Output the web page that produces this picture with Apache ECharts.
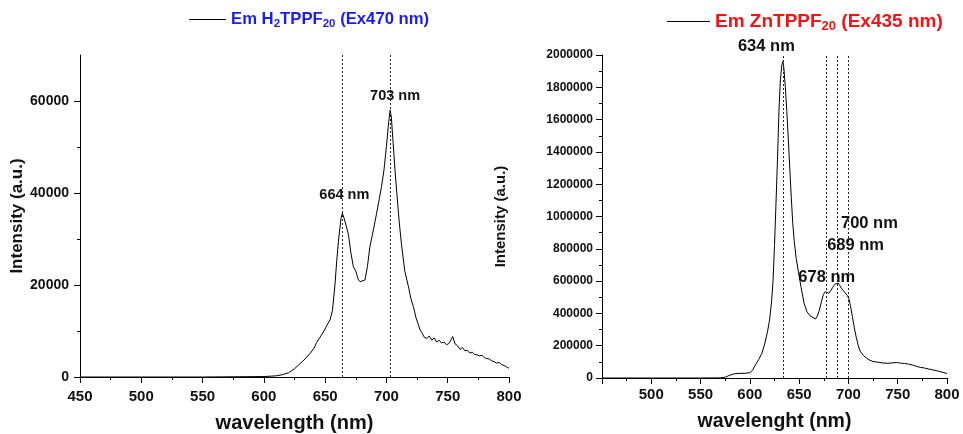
<!DOCTYPE html>
<html>
<head>
<meta charset="utf-8">
<script src="https://cdn.jsdelivr.net/npm/echarts@6/dist/echarts.min.js"></script>
<style>
  html, body { margin: 0; padding: 0; background: #fff; }
  #chart { width: 963px; height: 434px; }
</style>
</head>
<body>
<div id="chart"></div>
<script>
// Emission spectrum of H2TPPF20 (excitation 470 nm)
const wavelengthH2 = [450, 500, 550, 600, 610, 615, 620, 625, 630, 635, 638, 641, 643, 646, 649, 652, 654, 656, 658, 659.5, 661, 663, 664, 665.5, 667, 669, 671, 673, 675, 677, 678.5, 680, 682.5, 684.5, 686.5, 689, 692, 694, 696, 698, 700, 701.5, 703, 704, 705.5, 707, 708.5, 710.5, 712.5, 715, 718, 720, 722, 724, 726, 727.5, 729, 731, 733, 735, 737, 739, 741, 743, 745, 747, 749, 751, 753, 754, 756, 758, 760, 762, 764, 766, 768, 770, 772, 774, 776, 778, 780, 782, 784, 786, 788, 790, 792, 794, 796, 798, 800];
const intensityH2 = [0, 0, 0, 100, 250, 500, 900, 1800, 3000, 4300, 5200, 6300, 7500, 8700, 10000, 11500, 12400, 14500, 20000, 25400, 30000, 34500, 35600, 34500, 33000, 31000, 27000, 24000, 23000, 21200, 20700, 20600, 21100, 24000, 28300, 31500, 35600, 38500, 41400, 45000, 50100, 54500, 58000, 56500, 50800, 45000, 39900, 33500, 28300, 23000, 19600, 17000, 15300, 13000, 11400, 10200, 9600, 8600, 8400, 8900, 8000, 8500, 7600, 8000, 7400, 7600, 7000, 7300, 8200, 8800, 7200, 6800, 6000, 6400, 5700, 5800, 5200, 5400, 4900, 4800, 4600, 4700, 4200, 4000, 3900, 3500, 3300, 3000, 3200, 2700, 2500, 2200, 1900];
const peaksH2 = [664, 703];

// Emission spectrum of ZnTPPF20 (excitation 435 nm)
const wavelengthZn = [450, 500, 550, 570, 575, 580, 585, 590, 595, 600, 603, 606, 609, 612, 615, 618, 620, 622, 623.5, 625, 626.5, 628, 629.5, 631, 632.5, 633.5, 634.5, 636, 637.5, 639, 640.5, 642, 643.5, 645, 647, 649.5, 652, 655, 658, 661, 664, 666.5, 668.5, 670.5, 672.5, 674.5, 676.5, 678, 680, 682, 684, 686, 688, 689.5, 691, 693, 695, 697, 699, 700.5, 702, 704, 706, 708, 710, 712, 715, 718, 721, 725, 730, 735, 740, 745, 749, 753, 757, 761, 765, 769, 773, 777, 781, 785, 789, 793, 797, 800];
const intensityZn = [0, 0, 0, 1000, 5000, 18000, 27000, 29000, 29000, 33000, 50000, 85000, 115000, 150000, 210000, 290000, 360000, 470000, 600000, 820000, 1080000, 1350000, 1650000, 1850000, 1940000, 1960000, 1920000, 1800000, 1650000, 1480000, 1300000, 1120000, 960000, 850000, 740000, 650000, 560000, 463000, 410000, 385000, 375000, 365000, 385000, 420000, 470000, 515000, 535000, 530000, 524000, 540000, 560000, 580000, 592000, 588000, 575000, 555000, 540000, 525000, 510000, 490000, 450000, 380000, 310000, 250000, 200000, 165000, 140000, 125000, 112000, 102000, 98000, 93000, 91000, 94000, 96000, 92000, 90000, 86000, 80000, 72000, 66000, 62000, 56000, 51000, 46000, 40000, 33000, 28000];
const peaksZn = [634, 678, 689, 700];

const FONT = '"Liberation Sans", Arial, sans-serif';

// pixel offsets of each peak caption from the curve point at that wavelength
const captionOffsetH2 = [[2, -18], [5, -14]];
const captionOffsetZn = [[-17, -15], [0, -15], [18, -38], [21, -75]];

function pairs(ws, is) { return ws.map((w, i) => [w, is[i]]); }
function nearestValue(ws, is, x) {
  let best = 0;
  ws.forEach((w, i) => { if (Math.abs(w - x) < Math.abs(ws[best] - x)) best = i; });
  return is[best];
}

function peakMarks(ws, is, peaks, offsets, fontSize) {
  return {
    markLine: {
      silent: true,
      symbol: 'none',
      lineStyle: { color: '#222', type: [2, 2], width: 1 },
      label: { show: false },
      data: peaks.map(p => ({ xAxis: p }))
    },
    markPoint: {
      silent: true,
      symbol: 'circle',
      symbolSize: 1,
      itemStyle: { color: 'rgba(0,0,0,0)' },
      label: {
        show: true, position: 'inside', color: '#111',
        fontFamily: FONT, fontWeight: 'bold', fontSize: fontSize
      },
      data: peaks.map((p, i) => ({
        coord: [p, nearestValue(ws, is, p)],
        value: p,
        label: { formatter: p + ' nm', offset: offsets[i] }
      }))
    }
  };
}

const labelStyle = size => ({ fontFamily: FONT, fontWeight: 'bold', fontSize: size, color: '#111' });
const plain = v => String(v);

function xAxisCfg(gridIndex, name, labelSize, labelMargin, nameSize, nameGap, showMin) {
  return {
    type: 'value', gridIndex, min: 450, max: 800, interval: 50,
    name, nameLocation: 'middle', nameGap,
    nameTextStyle: labelStyle(nameSize),
    axisLine: { show: true, onZero: false, lineStyle: { color: '#000', width: 1 } },
    axisTick: { show: true, inside: false, length: 6, lineStyle: { color: '#000' } },
    minorTick: { show: true, splitNumber: 2, length: 3, lineStyle: { color: '#000' } },
    axisLabel: Object.assign({ margin: labelMargin, showMinLabel: showMin, formatter: plain }, labelStyle(labelSize)),
    splitLine: { show: false }
  };
}

const legendText = (color, main, sub) => ({
  fontFamily: FONT, fontWeight: 'bold', fontSize: main, color,
  rich: {
    m: { fontFamily: FONT, fontWeight: 'bold', fontSize: main, color, lineHeight: main + 4 },
    s: { fontFamily: FONT, fontWeight: 'bold', fontSize: sub, color, lineHeight: main + 4, padding: [Math.round(main * 0.55), 0, 0, 0] }
  }
});

const chart = echarts.init(document.getElementById('chart'), null, { renderer: 'canvas' });

chart.setOption({
  backgroundColor: '#fff',
  animation: false,
  legend: [
    {
      data: ['H2'], left: 189, top: 9, padding: 0, icon: 'rect', itemWidth: 37, itemHeight: 1.2, itemGap: 6,
      itemStyle: { color: '#000' },
      formatter: () => '{m|Em H}{s|2}{m|TPPF}{s|20}{m| (Ex470 nm)}',
      textStyle: legendText('#1c1cf0', 16.7, 11.5)
    },
    {
      data: ['Zn'], left: 667, top: 10, padding: 0, icon: 'rect', itemWidth: 43, itemHeight: 1.2, itemGap: 7,
      itemStyle: { color: '#000' },
      formatter: () => '{m|Em ZnTPPF}{s|20}{m| (Ex435 nm)}',
      textStyle: legendText('#f01414', 19, 13)
    }
  ],
  grid: [
    { left: 80, top: 55, width: 429, height: 322, outerBoundsMode: 'none', containLabel: false },
    { left: 602, top: 55, width: 345, height: 323, outerBoundsMode: 'none', containLabel: false }
  ],
  xAxis: [
    xAxisCfg(0, 'wavelength (nm)', 15, 12, 20, 36, true),
    xAxisCfg(1, 'wavelenght (nm)', 15, 9, 19.5, 34, false)
  ],
  yAxis: [
    {
      type: 'value', gridIndex: 0, min: 0, max: 70000, position: 'left',
      name: 'Intensity (a.u.)', nameLocation: 'middle', nameGap: 53,
      nameTextStyle: labelStyle(17),
      axisLine: { show: true, lineStyle: { color: '#000', width: 1 } },
      axisTick: { show: true, length: 6, customValues: [0, 20000, 40000, 60000], lineStyle: { color: '#000' } },
      axisLabel: Object.assign({ margin: 11, customValues: [0, 20000, 40000, 60000], formatter: plain }, labelStyle(14)),
      splitLine: { show: false }
    },
    {
      // minor ticks for the left intensity axis
      type: 'value', gridIndex: 0, min: 0, max: 70000, position: 'left', offset: 0,
      axisLine: { show: false },
      axisTick: { show: true, length: 3, customValues: [10000, 30000, 50000], lineStyle: { color: '#000' } },
      axisLabel: { show: false },
      splitLine: { show: false }
    },
    {
      type: 'value', gridIndex: 1, min: 0, max: 2000000, interval: 200000, position: 'left',
      name: 'Intensity (a.u.)', nameLocation: 'middle', nameGap: 94,
      nameTextStyle: labelStyle(15),
      axisLine: { show: true, lineStyle: { color: '#000', width: 1 } },
      axisTick: { show: true, length: 6, lineStyle: { color: '#000' } },
      minorTick: { show: true, splitNumber: 2, length: 3, lineStyle: { color: '#000' } },
      axisLabel: Object.assign({ margin: 9, formatter: plain }, labelStyle(12)),
      splitLine: { show: false }
    }
  ],
  series: [
    Object.assign({
      name: 'H2', type: 'line', xAxisIndex: 0, yAxisIndex: 0,
      data: pairs(wavelengthH2, intensityH2),
      symbol: 'none', smooth: false,
      lineStyle: { color: '#000', width: 1 }, itemStyle: { color: '#000' }
    }, peakMarks(wavelengthH2, intensityH2, peaksH2, captionOffsetH2, 14.5)),
    Object.assign({
      name: 'Zn', type: 'line', xAxisIndex: 1, yAxisIndex: 2,
      data: pairs(wavelengthZn, intensityZn),
      symbol: 'none', smooth: false,
      lineStyle: { color: '#000', width: 1 }, itemStyle: { color: '#000' }
    }, peakMarks(wavelengthZn, intensityZn, peaksZn, captionOffsetZn, 16.5))
  ]
});
</script>
</body>
</html>
